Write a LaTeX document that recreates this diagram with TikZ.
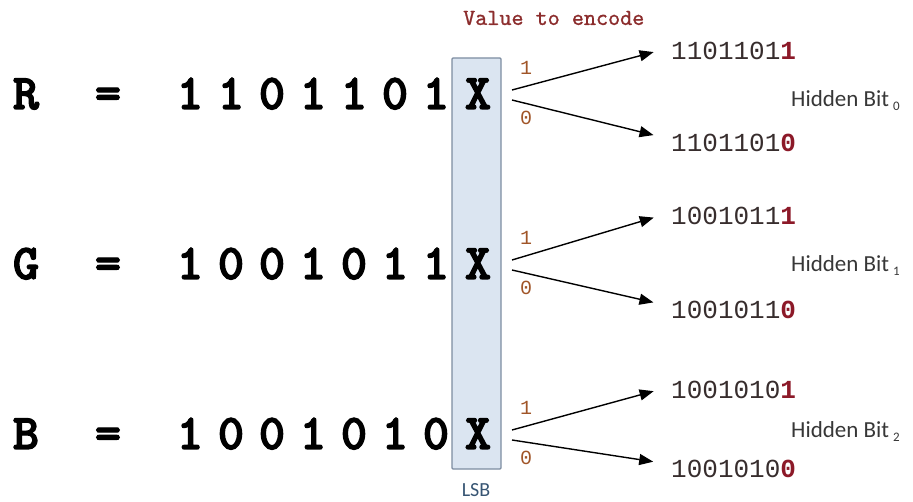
\documentclass[tikz,border=0pt]{standalone}
\usepackage{fontspec}
\usetikzlibrary{arrows.meta}
\newfontfamily\monofam{Liberation Mono}
\newfontfamily\sansfam{Carlito}
\newfontfamily\bigtt{lmmonolt10-bold.otf}[FakeBold=2.5]
\newfontfamily\enctt{lmmono10-regular.otf}[FakeBold=1]
\definecolor{boxfill}{RGB}{219,229,241}
\definecolor{boxline}{RGB}{125,140,160}
\definecolor{encred}{RGB}{140,45,45}
\definecolor{bitred}{RGB}{140,25,40}
\definecolor{outgray}{RGB}{55,45,45}
\definecolor{lblbrown}{RGB}{160,85,40}
\definecolor{lsbblue}{RGB}{55,85,115}
\definecolor{hidgray}{RGB}{55,55,55}
\begin{document}
\begin{tikzpicture}[x=1pt,y=-1pt,
  big/.style={font=\bigtt\fontsize{50}{50}\selectfont, inner sep=0pt, anchor=base},
  outbits/.style={font=\monofam\fontsize{26}{26}\selectfont, text=outgray, inner sep=0pt, anchor=base west},
  branch/.style={font=\monofam\fontsize{20}{20}\selectfont, text=lblbrown, inner sep=0pt},
  hidden/.style={font=\sansfam\fontsize{23}{23}\selectfont, text=hidgray, inner sep=0pt, anchor=base west},
  arr/.style={-{Triangle[length=14pt,width=11pt]}, line width=1.4pt, shorten >=18pt},
]
\useasboundingbox (0,0) rectangle (913,502);
\node[draw=boxline, fill=boxfill, line width=1.2pt, minimum width=49pt, minimum height=411pt, inner sep=0pt, rounded corners=1pt] (lsb) at (476.5,263.5) {};
\node[font=\enctt\fontsize{23}{23}\selectfont, text=encred, anchor=west, inner sep=0pt] (enc) at (463,18) {Value to encode};
\node[font=\sansfam\fontsize{20}{20}\selectfont, text=lsbblue, inner sep=0pt] (lsbl) at (476,490) {LSB};
% R row
\node[big] (R) at (26,109) {R};
\node[big] (eqR) at (108,109) {=};
\foreach \d [count=\i] in {1,1,0,1,1,0,1} \node[big] (R\i) at ({190+41*(\i-1)},109) {\d};
\node[big] (xR) at (478,109) {X};
\coordinate (sR1) at (512,90);
\coordinate (sR0) at (512,100);
\node[outbits] (oR1) at (671,60) {1101101\textbf{\textcolor{bitred}{1}}};
\node[outbits] (oR0) at (671,152) {1101101\textbf{\textcolor{bitred}{0}}};
\draw[arr] (sR1) -- ([yshift=4pt]oR1.west);
\draw[arr] (sR0) -- ([yshift=4pt]oR0.west);
\node[branch] (lR1) at (526,68) {1};
\node[branch] (lR0) at (526,118) {0};
\node[hidden] (hR) at (791,107) {Hidden Bit\hspace{4pt}\raisebox{-4pt}{\fontsize{13}{13}\selectfont 0}};
% G row
\node[big] (G) at (26,279) {G};
\node[big] (eqG) at (108,279) {=};
\foreach \d [count=\i] in {1,0,0,1,0,1,1} \node[big] (G\i) at ({190+41*(\i-1)},279) {\d};
\node[big] (xG) at (478,279) {X};
\coordinate (sG1) at (512,260);
\coordinate (sG0) at (512,270);
\node[outbits] (oG1) at (671,225) {1001011\textbf{\textcolor{bitred}{1}}};
\node[outbits] (oG0) at (671,319) {1001011\textbf{\textcolor{bitred}{0}}};
\draw[arr] (sG1) -- ([yshift=4pt]oG1.west);
\draw[arr] (sG0) -- ([yshift=4pt]oG0.west);
\node[branch] (lG1) at (526,238) {1};
\node[branch] (lG0) at (526,288) {0};
\node[hidden] (hG) at (791,272) {Hidden Bit\hspace{4pt}\raisebox{-4pt}{\fontsize{13}{13}\selectfont 1}};
% B row
\node[big] (B) at (26,449) {B};
\node[big] (eqB) at (108,449) {=};
\foreach \d [count=\i] in {1,0,0,1,0,1,0} \node[big] (B\i) at ({190+41*(\i-1)},449) {\d};
\node[big] (xB) at (478,449) {X};
\coordinate (sB1) at (512,430);
\coordinate (sB0) at (512,440);
\node[outbits] (oB1) at (671,399) {1001010\textbf{\textcolor{bitred}{1}}};
\node[outbits] (oB0) at (671,477) {1001010\textbf{\textcolor{bitred}{0}}};
\draw[arr] (sB1) -- ([yshift=4pt]oB1.west);
\draw[arr] (sB0) -- ([yshift=4pt]oB0.west);
\node[branch] (lB1) at (526,408) {1};
\node[branch] (lB0) at (526,458) {0};
\node[hidden] (hB) at (791,437) {Hidden Bit\hspace{4pt}\raisebox{-4pt}{\fontsize{13}{13}\selectfont 2}};
\end{tikzpicture}
\end{document}
